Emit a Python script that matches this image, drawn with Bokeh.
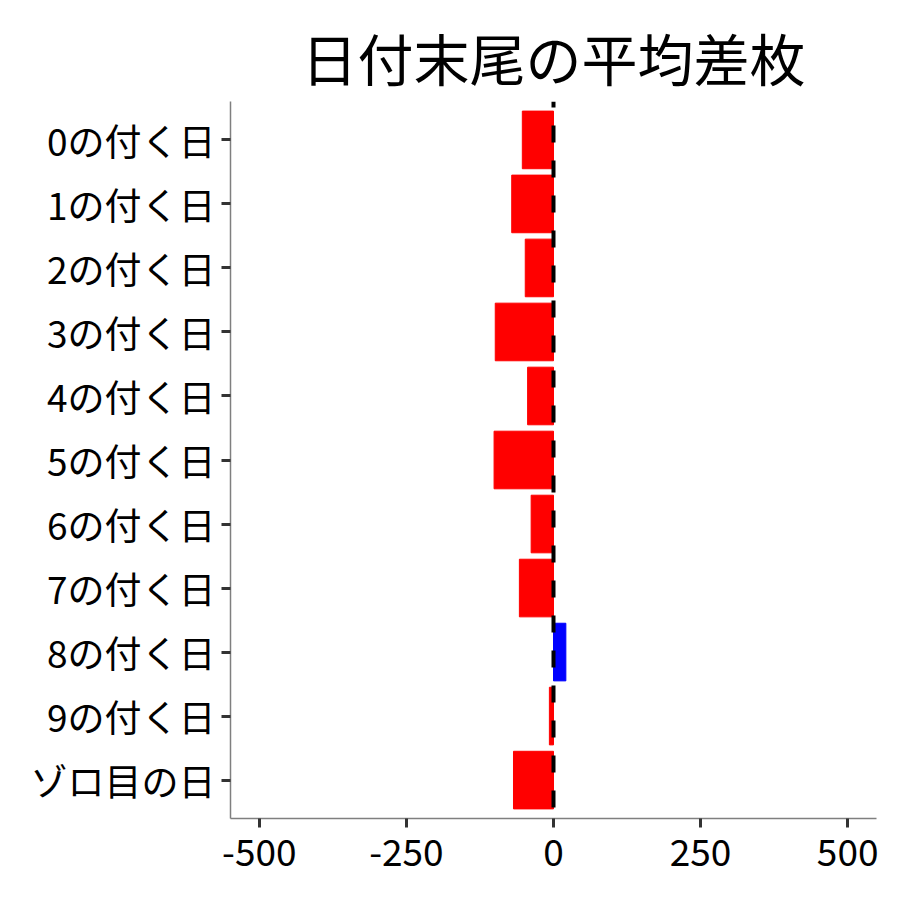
from bokeh.plotting import figure
from bokeh.models import ColumnDataSource, FactorRange, Range1d, Span, FixedTicker
from bokeh.embed import file_html
from bokeh.resources import INLINE

# data
days = ["0の付く日", "1の付く日", "2の付く日", "3の付く日", "4の付く日",
        "5の付く日", "6の付く日", "7の付く日", "8の付く日", "9の付く日", "ゾロ目の日"]
avg_diff = [-53, -71, -48, -99, -44, -101, -38, -58, 21, -7, -68]
x_ticks = [-500, -250, 0, 250, 500]

FONT = "Noto Sans CJK JP"

colors = ["#0000FF" if v > 0 else "#FF0000" for v in avg_diff]
src = ColumnDataSource(dict(day=days, diff=avg_diff, color=colors))

yr = FactorRange(factors=list(reversed(days)), range_padding=0.1,
                 range_padding_units="absolute")

p = figure(width=884, height=884, y_range=yr, x_range=Range1d(-549, 549),
           title="日付末尾の平均差枚", output_backend="svg", toolbar_location=None,
           min_border_left=230, min_border_right=8, min_border_top=101,
           min_border_bottom=66)

p.hbar(y="day", right="diff", left=0, height=0.9, color="color", source=src)

# dashed zero line
zero = Span(location=0, dimension="height", line_color="black", line_width=4,
            line_dash="17 18", line_dash_offset=11)
p.add_layout(zero)

p.title.text_font = FONT
p.title.text_font_size = "56px"
p.title.text_font_style = "normal"
p.title.align = "center"
p.title.text_color = "black"

p.xaxis.ticker = FixedTicker(ticks=x_ticks)
p.xaxis.major_label_overrides = {t: str(t) for t in x_ticks}
for ax in (p.xaxis, p.yaxis):
    ax.major_label_text_font = FONT
    ax.major_label_text_font_size = "37px"
    ax.major_label_text_color = "black"
    ax.axis_line_color = "#7f7f7f"
    ax.axis_line_width = 1.5
    ax.major_tick_line_color = "#333333"
    ax.major_tick_line_width = 3
    ax.major_tick_in = 0
    ax.major_tick_out = 9
    ax.minor_tick_line_color = None
    ax.major_label_standoff = 6
p.xaxis.major_label_standoff = 11

p.xgrid.grid_line_color = None
p.ygrid.grid_line_color = None
p.outline_line_color = None

open("out.html", "w").write(file_html(p, INLINE))
